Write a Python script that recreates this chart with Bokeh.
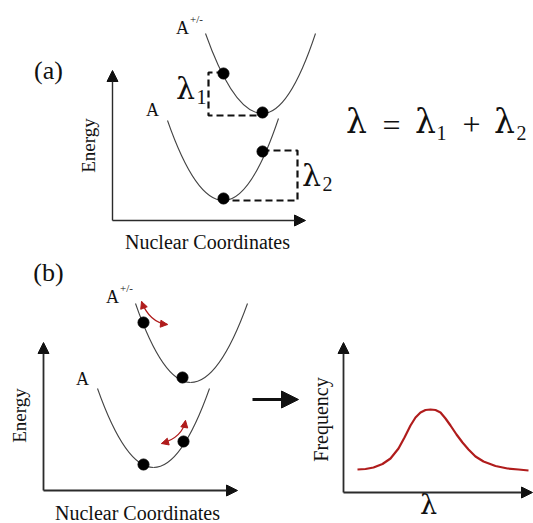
import math
from bokeh.plotting import figure
from bokeh.models import Range1d, Arrow, NormalHead
from bokeh.core.properties import value
from bokeh.embed import file_html
from bokeh.resources import INLINE

# ---------------- data (picture coordinates, y downward) ----------------
# parabolas: start, vertex, end
par_sx = [205, 167, 135, 97]
par_sy = [33, 120, 303, 388]
par_vx = [262, 223, 190, 153]
par_vy = [113, 200, 382, 467]
par_ex = [315, 278, 247, 209]
par_ey = [33, 118, 303, 388]

# dots on the curves
dot_x = [223, 262, 262, 223, 143, 182, 143, 183]
dot_y = [73, 112, 151, 198, 322, 377, 464, 441]

# dashed lambda brackets
br1_x = [223, 208, 208, 262]
br1_y = [72, 72, 115, 115]
br2_x = [262, 297, 297, 223]
br2_y = [150, 150, 200, 200]

# axis arrows: x_start, y_start, x_end, y_end
ax_x0 = [112, 112, 43, 43, 343, 343]
ax_y0 = [220, 220, 490, 490, 492, 492]
ax_x1 = [112, 305, 43, 237, 343, 532]
ax_y1 = [70, 220, 342, 490, 342, 492]

# red fluctuation arrows (quadratic: p0, control, p2)
ra_x0 = [141, 161]
ra_y0 = [301, 443]
ra_cx = [149, 182]
ra_cy = [322, 437]
ra_x2 = [167, 185]
ra_y2 = [324, 420]

# frequency distribution
freq_x = [357, 365, 373, 382, 390, 398, 404, 410, 415, 420, 425, 430, 435,
          440, 445, 450, 456, 462, 468, 475, 483, 495, 507, 518, 528]
freq_y = [469, 468.5, 467, 463.5, 458, 448, 437, 425, 417, 412, 409.5, 409, 409.5,
          412, 418, 425, 434, 442, 449, 456, 461, 465.5, 468, 469, 470]

RED = "#b01c1c"
INK = "#2b2b2b"
SERIF = "Liberation Serif"
GREEK = "DejaVu Serif"

p = figure(width=533, height=523, x_range=Range1d(0, 533), y_range=Range1d(523, 0),
           output_backend="svg", toolbar_location=None, min_border=0)
p.axis.visible = False
p.grid.visible = False
p.outline_line_color = None
p.background_fill_color = "white"
p.border_fill_color = "white"

# parabolas as two quadratic halves each
q0x, q0y, q1x, q1y, qcx, qcy = [], [], [], [], [], []
for sx, sy, vx, vy, ex, ey in zip(par_sx, par_sy, par_vx, par_vy, par_ex, par_ey):
    q0x += [sx, vx]; q0y += [sy, vy]
    q1x += [vx, ex]; q1y += [vy, ey]
    qcx += [(sx + vx) / 2, (vx + ex) / 2]; qcy += [vy, vy]
p.quadratic(x0=q0x, y0=q0y, x1=q1x, y1=q1y, cx=qcx, cy=qcy, line_color="#444444", line_width=1.1)

# brackets
p.line(br1_x, br1_y, line_color="#111111", line_width=2.2, line_dash="7 4")
p.line(br2_x, br2_y, line_color="#111111", line_width=2.2, line_dash="7 4")

# dots
p.scatter(dot_x, dot_y, size=11, fill_color="black", line_color="black")

# axes arrows
for i in range(len(ax_x0)):
    w = 1.4 if i < 2 else 1.8
    p.add_layout(Arrow(x_start=ax_x0[i], y_start=ax_y0[i], x_end=ax_x1[i], y_end=ax_y1[i],
                       line_color=INK, line_width=w,
                       end=NormalHead(size=11, fill_color="#111111", line_color="#111111", line_width=1)))

# big transition arrow
p.add_layout(Arrow(x_start=252, y_start=399, x_end=298, y_end=399, line_color="#111111", line_width=3,
                   end=NormalHead(size=17, fill_color="#111111", line_color="#111111", line_width=1)))

# red fluctuation arrows
p.quadratic(x0=ra_x0, y0=ra_y0, x1=ra_x2, y1=ra_y2, cx=ra_cx, cy=ra_cy, line_color=RED, line_width=1.3)
for i in range(len(ra_x0)):
    for (ex, ey) in [(ra_x0[i], ra_y0[i]), (ra_x2[i], ra_y2[i])]:
        p.add_layout(Arrow(x_start=ra_cx[i], y_start=ra_cy[i], x_end=ex, y_end=ey, line_alpha=0,
                           end=NormalHead(size=7, fill_color=RED, line_color=RED, line_width=1)))

# frequency curve
p.line(freq_x, freq_y, line_color=RED, line_width=2.2)

# ---------------- texts ----------------
def txt(x, y, s, size, angle=0.0, font=SERIF, baseline="middle", color="#111111"):
    p.text(x=[x], y=[y], text=[s], angle=angle, text_font=value(font),
           text_font_size=f"{size}px", text_align="center", text_baseline=baseline,
           text_color=color)

txt(48, 70, "(a)", 26)
txt(48, 272, "(b)", 26)
txt(88, 145, "Energy", 19, angle=math.pi / 2)
txt(19, 415, "Energy", 19, angle=math.pi / 2)
txt(320, 419, "Frequency", 20, angle=math.pi / 2)
txt(207, 241, "Nuclear Coordinates", 20)
txt(137, 512, "Nuclear Coordinates", 20)

txt(152, 109, "A", 18)
txt(182, 27, "A", 18)
txt(196, 18, "+/-", 11)
txt(82, 378, "A", 18)
txt(112, 296, "A", 18)
txt(126, 287, "+/-", 11)

# lambda labels
txt(185, 88, "λ", 30, font=GREEK)
txt(201, 96, "1", 20)
txt(311, 175, "λ", 30, font=GREEK)
txt(327, 183, "2", 20)

# equation
txt(356, 121, "λ", 33, font=GREEK)
txt(391, 124, "=", 32)
txt(425, 121, "λ", 33, font=GREEK)
txt(441, 132, "1", 20)
txt(471, 124, "+", 32)
txt(504, 121, "λ", 33, font=GREEK)
txt(521, 132, "2", 20)

# big lambda under the frequency axis
txt(428, 504, "λ", 27, font=GREEK)

open("out.html", "w").write(file_html(p, INLINE))
